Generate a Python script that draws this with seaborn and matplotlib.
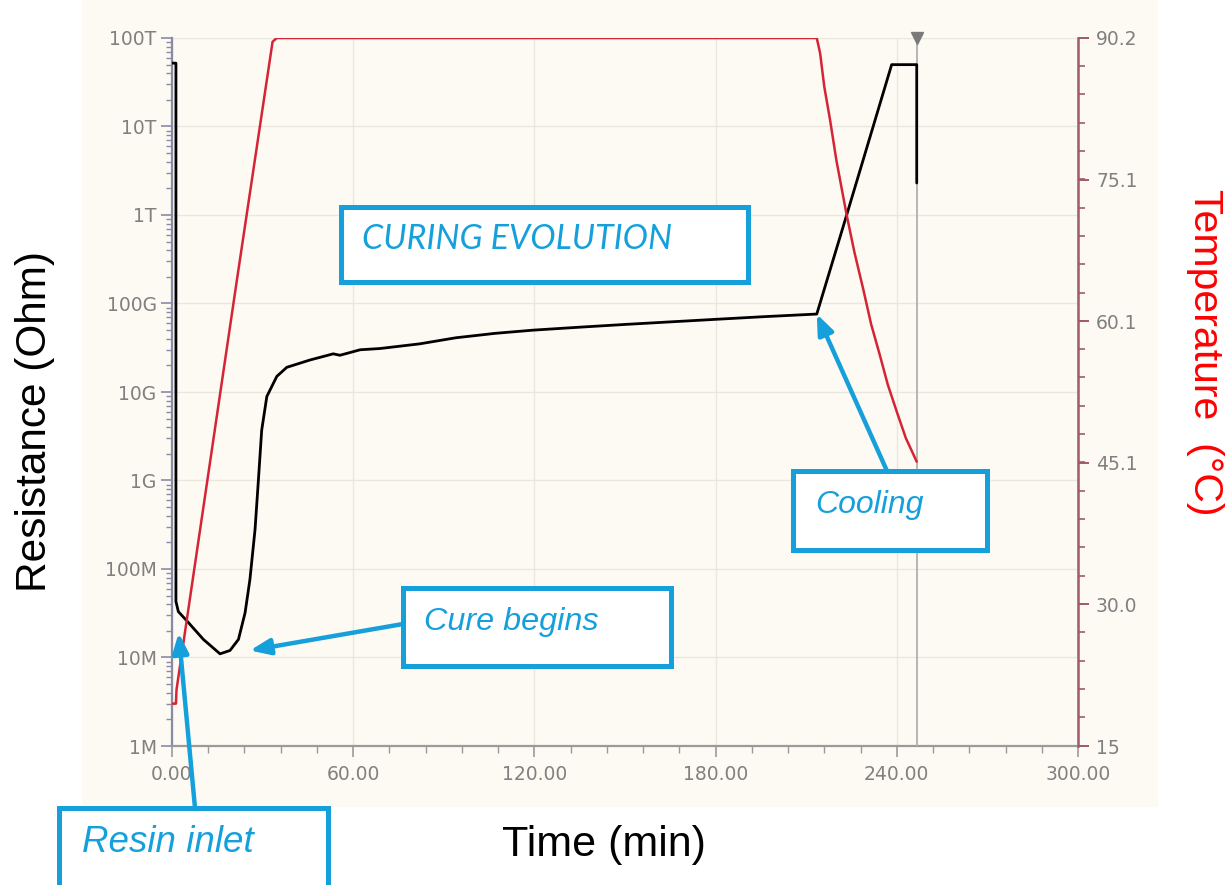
import numpy as np
import pandas as pd
import matplotlib
matplotlib.use("Agg")
import matplotlib.pyplot as plt
import matplotlib.ticker as mticker
from matplotlib.patches import Rectangle
import seaborn as sns

# ---------------- data ----------------
time_res = [0, 1.3, 1.3, 2.1, 4.9, 10.4, 15.9, 19.2, 22.0, 24.2, 25.8, 27.5,
            28.6, 29.7, 31.4, 34.7, 38.0, 45.7, 53.4, 55.6, 62.3, 68.9, 82.0,
            94.0, 107.0, 119.6, 135.0, 150.0, 165.0, 179.2, 196.0, 213.5,
            223.4, 238.3, 244.0, 246.6, 246.6]
resistance = [5.2e13, 5.2e13, 4.3e7, 3.3e7, 2.6e7, 1.6e7, 1.1e7, 1.2e7, 1.6e7,
              3.2e7, 7.6e7, 2.8e8, 1.0e9, 3.7e9, 8.9e9, 1.5e10, 1.9e10, 2.3e10,
              2.7e10, 2.6e10, 3.0e10, 3.1e10, 3.5e10, 4.1e10, 4.6e10, 5.0e10,
              5.4e10, 5.8e10, 6.2e10, 6.6e10, 7.1e10, 7.6e10, 1.0e12, 5.0e13,
              5.0e13, 5.0e13, 2.3e12]

time_temp = [0, 1.3, 1.5, 4.9, 21.4, 33.3, 34.7, 213.5, 214.6, 216.0, 217.9,
             220.0, 223.4, 226.0, 228.9, 231.5, 234.4, 237.0, 240.0, 243.0,
             246.6]
temperature = [19.5, 19.5, 21.0, 28.4, 64.3, 89.8, 90.2, 90.2, 88.6, 85.0,
               81.5, 77.2, 71.4, 67.4, 63.5, 59.8, 56.5, 53.4, 50.5, 47.7, 45.2]

cursor_time = 246.7

res_ticks = [1e6, 1e7, 1e8, 1e9, 1e10, 1e11, 1e12, 1e13, 1e14]
res_labels = ["1M", "10M", "100M", "1G", "10G", "100G", "1T", "10T", "100T"]
temp_ticks = [15, 30.04, 45.08, 60.12, 75.16, 90.2]
temp_labels = ["15", "30.0", "45.1", "60.1", "75.1", "90.2"]

# annotation targets (time, resistance)
cooling_pt = (213.5, 7.6e10)
cure_pt = (25.8, 1.2e7)
resin_pt = (2.2, 1.9e7)

df_res = pd.DataFrame({"time": time_res, "resistance": resistance})
df_temp = pd.DataFrame({"time": time_temp, "temperature": temperature})

# ---------------- styling ----------------
sns.set_style("white")
plt.rcParams["font.family"] = ["DejaVu Sans"]

W, H = 1227, 885
fig = plt.figure(figsize=(W / 100, H / 100), dpi=100, facecolor="white")
cream = "#fcfaf2"
fig.patches.append(Rectangle((82 / W, 1 - 807 / H), (1158 - 82) / W, 807 / H,
                             transform=fig.transFigure, facecolor=cream,
                             edgecolor="none", zorder=-10))

L, R, T, B = 172, 1078, 38, 746
ax = fig.add_axes([L / W, 1 - B / H, (R - L) / W, (B - T) / H])
ax.set_facecolor(cream)
ax2 = ax.twinx()

sns.lineplot(data=df_res, x="time", y="resistance", ax=ax, color="black",
             lw=2.0, sort=False, estimator=None, zorder=5)
sns.lineplot(data=df_temp, x="time", y="temperature", ax=ax2,
             color="#d42435", lw=1.8, sort=False, estimator=None, zorder=4)

ax.set_yscale("log")
ax.set_ylim(1e6, 1e14)
ax.set_xlim(0, 300)
ax2.set_ylim(15, 90.2)

# cursor line
ax.axvline(cursor_time, color="#b0b0b0", lw=1.3, zorder=3)
ax.plot([cursor_time], [1e14], marker="v", ms=9, color="#7a7a7a",
        clip_on=False, zorder=6)

ax.set_xlabel("")
ax.set_ylabel("")
ax2.set_ylabel("")

grid_c = "#e9e7de"
ax.grid(True, which="major", axis="both", color=grid_c, lw=1.0)
ax.set_axisbelow(True)

ax.xaxis.set_major_locator(mticker.MultipleLocator(60))
ax.xaxis.set_minor_locator(mticker.MultipleLocator(12))
ax.xaxis.set_major_formatter(mticker.FormatStrFormatter("%.2f"))
ax.set_yticks(res_ticks)
ax.set_yticklabels(res_labels)
ax.yaxis.set_minor_locator(mticker.LogLocator(base=10, subs=np.arange(2, 10)))
ax.yaxis.set_minor_formatter(mticker.NullFormatter())

ax2.set_yticks(temp_ticks)
ax2.set_yticklabels(temp_labels)
ax2.yaxis.set_minor_locator(mticker.MultipleLocator(3.008))

tick_c = "#808080"
left_c = "#8a8aa6"
right_c = "#a05a68"
bottom_c = "#9a9a9a"

for s in ["top", "right"]:
    ax.spines[s].set_visible(False)
ax.spines["left"].set_color(left_c)
ax.spines["left"].set_linewidth(1.6)
ax.spines["bottom"].set_color(bottom_c)
ax.spines["bottom"].set_linewidth(1.6)
for s in ["top", "left", "bottom"]:
    ax2.spines[s].set_visible(False)
ax2.spines["right"].set_color(right_c)
ax2.spines["right"].set_linewidth(1.8)

ax.tick_params(axis="y", which="major", direction="out", length=8, width=1.2,
               color=left_c, labelcolor=tick_c, labelsize=13.5, pad=3, left=True)
ax.tick_params(axis="y", which="minor", direction="out", length=4, width=1.0,
               color=left_c, left=True)
ax.tick_params(axis="x", which="major", direction="out", length=8, width=1.2,
               color=bottom_c, labelcolor=tick_c, labelsize=13.5, pad=6, bottom=True)
ax.tick_params(axis="x", which="minor", direction="out", length=5, width=1.0,
               color=bottom_c, bottom=True)
ax2.tick_params(axis="y", which="major", direction="out", length=8, width=1.4,
                color=right_c, labelcolor=tick_c, labelsize=13.5, pad=5, right=True)
ax2.tick_params(axis="y", which="minor", direction="out", length=5, width=1.2,
                color=right_c, right=True)

# axis titles
fig.text(35 / W, 1 - 422 / H, "Resistance (Ohm)", rotation=90, ha="center",
         va="center", fontsize=30.5, color="black", family="Liberation Sans")
fig.text(1205 / W, 1 - 352 / H, "Temperature  (°C)", rotation=270, ha="center",
         va="center", fontsize=29.5, color="#ff0000", family="Liberation Sans")
fig.text(604 / W, 1 - 845 / H, "Time (min)", ha="center", va="center",
         fontsize=31, color="black", family="Liberation Sans")

# annotation boxes
blue = "#15a0dc"


def box(x0, y0, x1, y1, label, tx, ty, size, family):
    fig.patches.append(Rectangle((x0 / W, 1 - y1 / H), (x1 - x0) / W,
                                 (y1 - y0) / H, transform=fig.transFigure,
                                 facecolor="white", edgecolor=blue, lw=3.6,
                                 zorder=10, clip_on=False))
    fig.text(tx / W, 1 - ty / H, label, ha="left", va="center",
             fontsize=size, style="italic", color=blue, family=family,
             zorder=11)


box(341, 207, 748, 282, "CURING EVOLUTION", 362, 239, 24.5, "Lato")
box(793, 471, 987, 550, "Cooling", 815, 505, 23, "Liberation Sans")
box(403, 588, 671, 666, "Cure begins", 424, 622, 23.3, "Liberation Sans")
box(59, 808, 328, 900, "Resin inlet", 82, 843, 26.5, "Liberation Sans")

arrow_style = "-|>,head_length=0.8,head_width=0.32"
for pt, start in [(cooling_pt, (887, 471)), (cure_pt, (403, 624)),
                  (resin_pt, (195, 808))]:
    ax2.annotate("", xy=pt, xycoords=ax.transData,
                 xytext=(start[0] / W, 1 - start[1] / H),
                 textcoords="figure fraction",
                 arrowprops=dict(arrowstyle=arrow_style, color=blue, lw=3.2,
                                 mutation_scale=15, shrinkA=0, shrinkB=0),
                 annotation_clip=False, zorder=9)

fig.savefig("out.png", dpi=100, facecolor="white")
